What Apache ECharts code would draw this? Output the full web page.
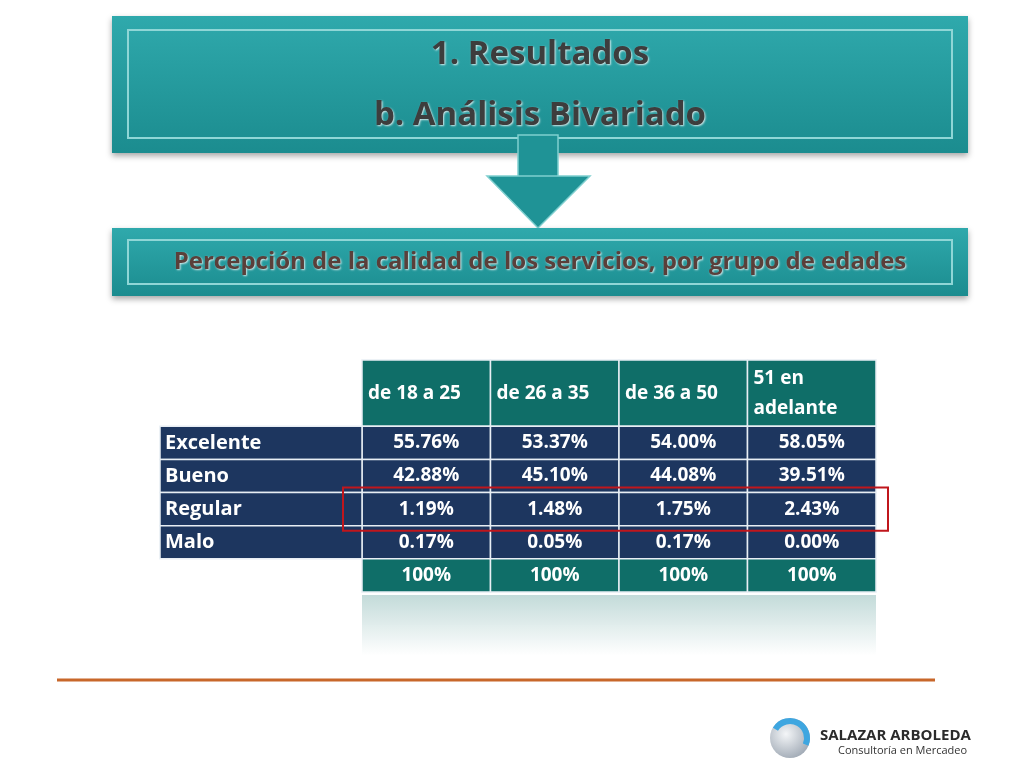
<!DOCTYPE html>
<html><head><meta charset="utf-8">
<script src="https://cdn.jsdelivr.net/npm/echarts@6/dist/echarts.min.js"></script>
<style>html,body{margin:0;background:#fff}#c{width:1024px;height:768px}</style>
</head><body><div id="c"></div>
<script>
const ageGroups = ['de 18 a 25', 'de 26 a 35', 'de 36 a 50', '51 en\nadelante'];
const ratings = ['Excelente', 'Bueno', 'Regular', 'Malo'];
const excelente = ['55.76%', '53.37%', '54.00%', '58.05%'];
const bueno = ['42.88%', '45.10%', '44.08%', '39.51%'];
const regular = ['1.19%', '1.48%', '1.75%', '2.43%'];
const malo = ['0.17%', '0.05%', '0.17%', '0.00%'];
const totals = ['100%', '100%', '100%', '100%'];
// header spans two row slots
const rowKeys = ['header', 'header-2', ...ratings, 'total'];

const valueRows = [excelente, bueno, regular, malo];
const cells = [];
ageGroups.forEach((g, c) => {
  cells.push([c, 0, g]);
  valueRows.forEach((r, i) => cells.push([c, i + 2, r[c]]));
  cells.push([c, 6, totals[c]]);
});

const chart = echarts.init(document.getElementById('c'));
const FONT = '"Open Sans", "Noto Sans", sans-serif';
const teal = '#0f6e68', navy = '#1d365f';

function renderItem(params, api) {
  const c = api.value(0), r = api.value(1), txt = api.value(2);
  const p = api.coord([c, r]);
  const sz = api.size([1, 1]);
  const x = p[0] - sz[0] / 2, y = p[1] - sz[1] / 2;
  const h = r === 0 ? sz[1] * 2 : sz[1];
  const fill = (r === 0 || r === 6) ? teal : navy;
  const children = [{
    type: 'rect', shape: {x, y, width: sz[0], height: h},
    style: {fill, stroke: '#e8eef4', lineWidth: 1.5}
  }, {
    type: 'text', style: {
      text: txt, x: r === 0 ? x + 6 : p[0], y: y + h / 2,
      align: r === 0 ? 'left' : 'center', verticalAlign: 'middle',
      fill: '#ffffff', font: 'bold 19px ' + FONT, lineHeight: 30
    }
  }];
  if (c === 0 && r >= 2 && r <= 5) {
    const lw = 202;
    children.push({type: 'rect', shape: {x: x - lw, y, width: lw, height: sz[1]},
      style: {fill: navy, stroke: '#e8eef4', lineWidth: 1.5}});
    children.push({type: 'text', style: {text: ratings[r - 2], x: x - lw + 5, y: p[1],
      align: 'left', verticalAlign: 'middle', fill: '#fff', font: 'bold 20px ' + FONT}});
  }
  if (c === 0 && r === 4) {
    const w = sz[0] * 4;
    children.push({type: 'rect', z2: 10, shape: {x: x - 19, y: y - 5, width: w + 31, height: sz[1] + 10},
      style: {fill: 'none', stroke: '#c0161c', lineWidth: 2}});
  }
  return {type: 'group', children};
}

const shadowText = (txt, y, size, color) => ({
  type: 'text', x: 540, y: y,
  style: {text: txt, fill: color || '#3d3d3d', font: 'bold ' + size + 'px ' + FONT, align: 'center', verticalAlign: 'middle',
    textShadowColor: 'rgba(255,255,255,0.8)', textShadowBlur: 2, textShadowOffsetX: 1, textShadowOffsetY: 1}
});

chart.setOption({
  animation: false,
  grid: {left: 362, right: 148, top: 360, bottom: 176},
  xAxis: {type: 'category', data: ageGroups, show: false},
  yAxis: {type: 'category', data: rowKeys, inverse: true, show: false},
  series: [{type: 'custom', renderItem, data: cells, encode: {x: 0, y: 1}}],
  graphic: [
    {type: 'rect', shape: {x: 112, y: 16, width: 856, height: 137},
     style: {fill: {type: 'linear', x: 0, y: 0, x2: 0, y2: 1, colorStops: [{offset: 0, color: '#2fa9ac'}, {offset: 1, color: '#1b8c8f'}]},
       shadowBlur: 6, shadowColor: 'rgba(0,0,0,0.35)', shadowOffsetY: 3}},
    {type: 'rect', shape: {x: 128, y: 30, width: 824, height: 108}, style: {fill: 'none', stroke: '#8fd6d6', lineWidth: 2}},
    {type: 'rect', shape: {x: 518, y: 135, width: 40, height: 45},
     style: {fill: '#1f9396', stroke: '#7fcfcf', lineWidth: 1.5}},
    {type: 'polygon', shape: {points: [[487, 176], [590, 176], [538, 228]]},
     style: {fill: '#1f9396', stroke: '#7fcfcf', lineWidth: 1.5}},
    shadowText('1. Resultados', 55, 33),
    shadowText('b. Análisis Bivariado', 116, 33),
    {type: 'rect', shape: {x: 112, y: 228, width: 856, height: 68},
     style: {fill: {type: 'linear', x: 0, y: 0, x2: 0, y2: 1, colorStops: [{offset: 0, color: '#2fa9ac'}, {offset: 1, color: '#1b8c8f'}]},
       shadowBlur: 6, shadowColor: 'rgba(0,0,0,0.35)', shadowOffsetY: 3}},
    {type: 'rect', shape: {x: 128, y: 240, width: 824, height: 44}, style: {fill: 'none', stroke: '#8fd6d6', lineWidth: 2}},
    shadowText('Percepción de la calidad de los servicios, por grupo de edades', 262, 24, '#5a3f3a'),
    {type: 'rect', shape: {x: 362, y: 595, width: 514, height: 60},
     style: {fill: {type: 'linear', x: 0, y: 0, x2: 0, y2: 1, colorStops: [{offset: 0, color: 'rgba(15,110,104,0.25)'}, {offset: 1, color: 'rgba(15,110,104,0)'}]}}},
    {type: 'line', shape: {x1: 57, y1: 680, x2: 935, y2: 680}, style: {stroke: '#c8672a', lineWidth: 3}},
    {type: 'circle', shape: {cx: 790, cy: 738, r: 20},
     style: {fill: {type: 'radial', x: 0.4, y: 0.4, r: 0.7, colorStops: [{offset: 0, color: '#f4f6f8'}, {offset: 1, color: '#9aa4b0'}]}}},
    {type: 'arc', shape: {cx: 790, cy: 738, r: 17, startAngle: -2.6, endAngle: 0.4}, style: {stroke: '#3ea6e0', lineWidth: 6, fill: 'none'}},
    {type: 'text', left: 820, top: 728, style: {text: 'SALAZAR ARBOLEDA', fill: '#2b2b2b', font: 'bold 15px ' + FONT}},
    {type: 'text', left: 838, top: 745, style: {text: 'Consultoría en Mercadeo', fill: '#333', font: '11px ' + FONT}}
  ]
});
</script></body></html>
